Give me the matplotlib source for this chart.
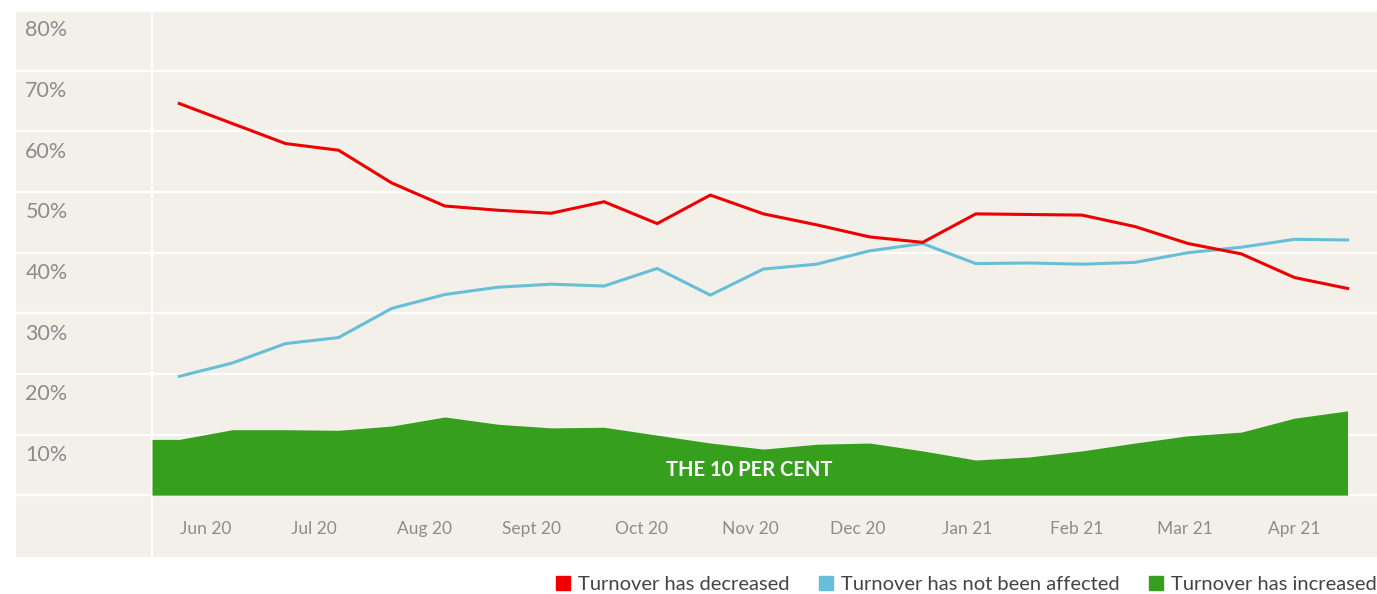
import matplotlib
matplotlib.use("Agg")
import matplotlib.pyplot as plt
from matplotlib.patches import Patch

plt.rcParams['font.family'] = ['Lato', 'DejaVu Sans']

# fortnightly survey waves, Jun 2020 - Apr 2021 (share of businesses, %)
decreased = [64.6, 61.3, 58.0, 56.9, 51.5, 47.7, 47.0, 46.5, 48.4, 44.8, 49.5, 46.4,
             44.6, 42.6, 41.7, 46.4, 46.3, 46.2, 44.3, 41.5, 39.8, 35.9, 34.1]
not_affected = [19.6, 21.8, 25.0, 26.0, 30.8, 33.1, 34.3, 34.8, 34.5, 37.4, 33.0, 37.3,
                38.1, 40.3, 41.5, 38.2, 38.3, 38.1, 38.4, 40.0, 40.9, 42.2, 42.1]
increased = [9.2, 10.8, 10.8, 10.7, 11.4, 12.9, 11.7, 11.1, 11.2, 9.9, 8.6, 7.6,
             8.4, 8.6, 7.3, 5.8, 6.3, 7.3, 8.6, 9.8, 10.4, 12.7, 13.9]

month_labels = ['Jun 20', 'Jul 20', 'Aug 20', 'Sept 20', 'Oct 20', 'Nov 20',
                'Dec 20', 'Jan 21', 'Feb 21', 'Mar 21', 'Apr 21']
month_pos = [0.5, 2.54, 4.61, 6.64, 8.7, 10.75, 12.78, 14.84, 16.89, 18.94, 20.99]
y_ticks = [10, 20, 30, 40, 50, 60, 70, 80]

RED = '#ee0000'
BLUE = '#67bed8'
GREEN = '#36a01e'
BG = '#f2f0e9'
GREY = '#8c8c8c'

W, H = 1377, 594
fig = plt.figure(figsize=(W / 100, H / 100), dpi=100)
ax = fig.add_axes([16 / W, (H - 557) / H, (W - 16) / W, (557 - 12) / H])
ax.set_facecolor(BG)

x = list(range(len(decreased)))
x_left = -0.514
ax.set_xlim(-3.075, 22.555)
ax.set_ylim(-10.2, 79.7)

# gridlines
for v in [0] + y_ticks:
    ax.axhline(v, color='white', lw=1.6, zorder=1)
ax.axvline(x_left, color='white', lw=1.6, zorder=1)

# green area, extended flat to the left edge of the plot
ax.fill_between([x_left] + x, 0, [increased[0]] + increased, color=GREEN, lw=0, zorder=2)
ax.plot(x, not_affected, color=BLUE, lw=2.2, zorder=3, solid_joinstyle='miter')
ax.plot(x, decreased, color=RED, lw=2.2, zorder=4, solid_joinstyle='miter')

ax.text(10.73, 4.1, 'THE 10 PER CENT', color='white', fontsize=14.5, fontweight='bold',
        ha='center', va='center', zorder=5)

for v in y_ticks:
    ax.text(-2.9, v - 4.34, f'{v}%', color=GREY, fontsize=15.5, ha='left', va='baseline')
for p, lab in zip(month_pos, month_labels):
    ax.text(p, -6.44, lab, color=GREY, fontsize=12.5, ha='center', va='baseline')

ax.set_xticks([])
ax.set_yticks([])
for s in ax.spines.values():
    s.set_visible(False)

handles = [Patch(color=RED, label='Turnover has decreased'),
           Patch(color=BLUE, label='Turnover has not been affected'),
           Patch(color=GREEN, label='Turnover has increased')]
fig.legend(handles=handles, loc='lower right', bbox_to_anchor=(1.0, 1 / H), ncol=3,
           frameon=False, fontsize=14.5, handlelength=0.7, handleheight=0.7,
           handletextpad=0.4, columnspacing=1.45, labelcolor='#444444',
           borderaxespad=0, borderpad=0)

fig.savefig('out.png', dpi=100, facecolor='white')
